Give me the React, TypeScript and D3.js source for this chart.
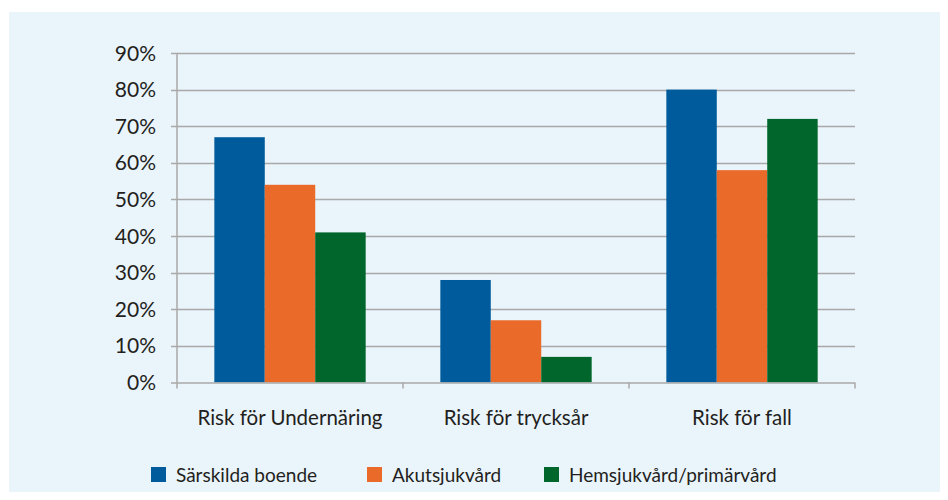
import React, { useEffect, useRef } from "react";
import * as d3 from "d3";

const categories = ["Risk för Undernäring", "Risk för trycksår", "Risk för fall"];
const seriesNames = ["Särskilda boende", "Akutsjukvård", "Hemsjukvård/primärvård"];
const sarskildaBoende = [67, 28, 80];
const akutsjukvard = [54, 17, 58];
const hemsjukvard = [41, 7, 72];
const yTicks = [0, 10, 20, 30, 40, 50, 60, 70, 80, 90];
const colors = ["#005b9c", "#ea6a2a", "#00662b"];

const App = () => {
  const ref = useRef<SVGSVGElement>(null);

  useEffect(() => {
    const svg = d3.select(ref.current);
    svg.selectAll("*").remove();

    const font = "Lato, 'Open Sans', sans-serif";
    const left = 177;
    const right = 855;
    const top = 53;
    const bottom = 382.5;

    svg
      .append("rect")
      .attr("x", 9)
      .attr("y", 12)
      .attr("width", 948 - 9)
      .attr("height", 500 - 12)
      .attr("fill", "#eaf4fb");

    const x = d3.scaleBand().domain(categories).range([left, right]).paddingInner(0).paddingOuter(0);
    const x1 = d3.scaleBand().domain(seriesNames).range([0, x.bandwidth()]).paddingOuter(0.74).paddingInner(0);
    const y = d3.scaleLinear().domain([0, 90]).range([bottom, top]);

    // gridlines
    svg
      .append("g")
      .selectAll("line")
      .data(yTicks.filter((d) => d > 0))
      .enter()
      .append("line")
      .attr("x1", left - 6)
      .attr("x2", right)
      .attr("y1", (d) => Math.round(y(d)) + 0.5)
      .attr("y2", (d) => Math.round(y(d)) + 0.5)
      .attr("stroke", "#a9a9a9")
      .attr("stroke-width", 1.5);

    const series = [sarskildaBoende, akutsjukvard, hemsjukvard];

    svg
      .append("g")
      .selectAll("g")
      .data(categories)
      .enter()
      .append("g")
      .attr("transform", (d) => `translate(${x(d)},0)`)
      .selectAll("rect")
      .data((d, i) => series.map((s, j) => ({ name: seriesNames[j], value: s[i], j })))
      .enter()
      .append("rect")
      .attr("x", (d) => x1(d.name)!)
      .attr("y", (d) => y(d.value))
      .attr("width", x1.bandwidth())
      .attr("height", (d) => y(0) - y(d.value))
      .attr("fill", (d) => colors[d.j]);

    // y axis line
    svg
      .append("line")
      .attr("x1", left)
      .attr("x2", left)
      .attr("y1", top)
      .attr("y2", bottom)
      .attr("stroke", "#a9a9a9")
      .attr("stroke-width", 1.5);

    // x axis line + ticks
    svg
      .append("line")
      .attr("x1", left - 6)
      .attr("x2", right)
      .attr("y1", bottom + 0.5)
      .attr("y2", bottom + 0.5)
      .attr("stroke", "#a9a9a9")
      .attr("stroke-width", 1.5);

    const tickXs = categories.map((c) => x(c)!).concat([right]);
    svg
      .append("g")
      .selectAll("line")
      .data(tickXs)
      .enter()
      .append("line")
      .attr("x1", (d) => d)
      .attr("x2", (d) => d)
      .attr("y1", bottom)
      .attr("y2", bottom + 6)
      .attr("stroke", "#a9a9a9")
      .attr("stroke-width", 1.5);

    // y labels
    svg
      .append("g")
      .selectAll("text")
      .data(yTicks)
      .enter()
      .append("text")
      .attr("x", 156)
      .attr("y", (d) => y(d))
      .attr("dy", "0.36em")
      .attr("text-anchor", "end")
      .attr("font-family", font)
      .attr("font-size", 21)
      .attr("fill", "#231f20")
      .text((d) => `${d}%`);

    // category labels
    svg
      .append("g")
      .selectAll("text")
      .data(categories)
      .enter()
      .append("text")
      .attr("x", (d) => x(d)! + x.bandwidth() / 2)
      .attr("y", 425)
      .attr("text-anchor", "middle")
      .attr("font-family", font)
      .attr("font-size", 20.5)
      .attr("fill", "#231f20")
      .text((d) => d);

    // legend
    const legendX = [151, 367, 544];
    const lg = svg
      .append("g")
      .selectAll("g")
      .data(seriesNames)
      .enter()
      .append("g")
      .attr("transform", (d, i) => `translate(${legendX[i]},467)`);
    lg.append("rect")
      .attr("width", 15)
      .attr("height", 15)
      .attr("fill", (d, i) => colors[i]);
    lg.append("text")
      .attr("x", 25)
      .attr("y", 14.5)
      .attr("font-family", font)
      .attr("font-size", 19)
      .attr("fill", "#231f20")
      .text((d) => d);
  }, []);

  return (
    <svg
      ref={ref}
      width={948}
      height={500}
      style={{ display: "block", margin: -8 }}
    ></svg>
  );
};

export default App;
